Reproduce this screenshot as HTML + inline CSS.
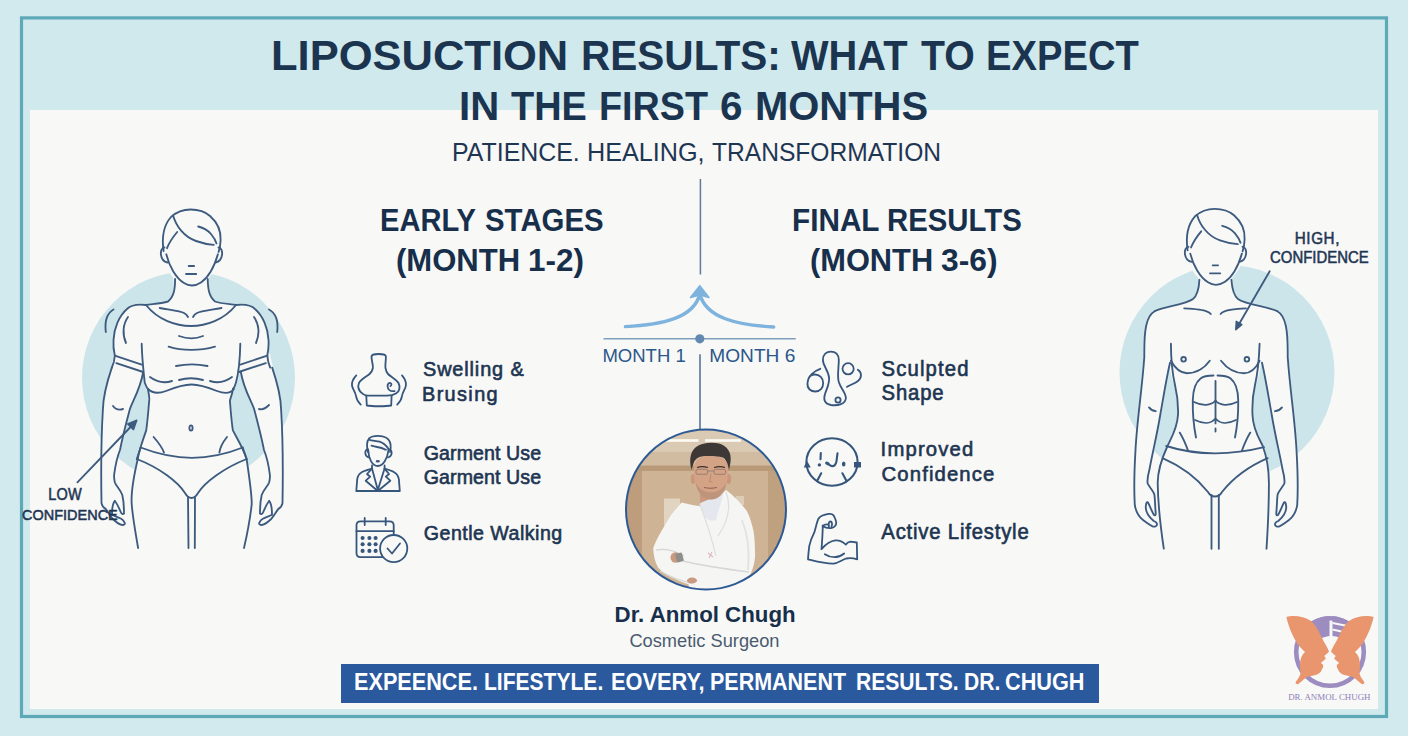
<!DOCTYPE html>
<html><head><meta charset="utf-8">
<style>
html,body{margin:0;padding:0;}
body{width:1408px;height:736px;overflow:hidden;position:relative;background:#d2eaee;font-family:"Liberation Sans", sans-serif;}
.t{position:absolute;white-space:nowrap;font-family:"Liberation Sans", sans-serif;}
svg.main{position:absolute;left:0;top:0;}
</style></head>
<body>
<svg class="main" width="1408" height="736" viewBox="0 0 1408 736">
<defs>
  <clipPath id="pc"><circle cx="706" cy="509.5" r="80"/></clipPath>
  <linearGradient id="bgg" x1="0" y1="0" x2="0" y2="1">
    <stop offset="0" stop-color="#d2c0a6"/><stop offset="1" stop-color="#c3a483"/>
  </linearGradient>
</defs>
<!-- frame -->
<rect x="21.5" y="17.9" width="1365" height="698.6" fill="#d0e9ed" stroke="#5ea9b7" stroke-width="3.2"/>
<rect x="30" y="110" width="1348" height="599" fill="#f8f8f7"/>

<!-- circles -->
<circle cx="188.5" cy="378" r="106.5" fill="#cce5ea"/>
<circle cx="1227" cy="372.5" r="107.5" fill="#cce5ea"/>

<!-- LEFT FIGURE -->
<g fill="#f8f8f7" stroke="#f8f8f7" stroke-width="1.5" stroke-linejoin="round">
<path d="M165,262 C158,240 160,212 190,210 C220,210 223,240 218,262 C212,276 202,286 191,286 C180,286 170,276 165,262 Z"/><path d="M174,276 L174,279 C175,288 174,297 167,302 C160,304 150,304 146,305 C138,304 131,305 127,309 C119,316 114,328 113.5,340 C113,346 114,352 114.8,355.6 L116.3,363.1 L143.2,372 C144,375 144.5,380 144.7,382.5 C146,386 147,388 148,389 C149,395 149.5,400 149.2,400.5 C148,415 147,425 146.2,430.4 C143,440 139,450 138,458 C134,475 131,495 131.7,504.3 C133,520 136,535 138.1,548 L244,548 C247,535 250,520 251.7,504.3 C252,495 249,475 246.6,459 C244,450 238,440 232.9,430.4 C232,425 231,415 229.9,400.5 C230,400 232,395 233,389 C234,388 235,386 236,382.5 C237,378 238,375 238.8,372 L265.8,363.1 L267.3,355.6 C268,352 269,346 268.5,340 C268,328 263,316 255,309 C251,305 244,304 236,305 C232,304 222,304 215,302 C209,297 208,288 208,279 L208,276 Z"/><path d="M114.8,354 L111.8,367.6 C106,385 103,400 102.9,409.4 C101,440 101,475 101.5,503.1 C104,510 112,520 122.3,525 C126,525 125,520 124,513.5 C124,508 123.5,500 122.3,495 C120,489 116,486 114.8,482.3 C114,479 114,476 114.2,474.2 C116,460 118,455 120,450 C123,435 127,420 129.8,409.4 C133,400 140,390 143.2,372 L142,363 Z"/><path d="M269.20,354 L272.20,367.6 C278.00,385 281.00,400 281.10,409.4 C283.00,440 283.00,475 282.50,503.1 C280.00,510 272.00,520 261.70,525 C258.00,525 259.00,520 260.00,513.5 C260.00,508 260.50,500 261.70,495 C264.00,489 268.00,486 269.20,482.3 C270.00,479 270.00,476 269.80,474.2 C268.00,460 266.00,455 264.00,450 C261.00,435 257.00,420 254.20,409.4 C251.00,400 244.00,390 240.80,372 L242.00,363 Z"/>
</g>
<g fill="none" stroke="#3d5b7e" stroke-width="1.85" stroke-linecap="round" stroke-linejoin="round">
<path d="M163.6,251 C162,240 163,226 171,217 C177,211.5 184,209.5 190.7,209.5 C198,209.5 205,211.5 210,216 C218,223 221,232 220.6,240 C220.5,244 220,248 218.6,252"/>
<path d="M166.3,254.3 C169,266 176,278 184,283 C187,285 189.5,285.5 192,285.5 C195,285.5 198,284.5 201,282.5 C209,277 214.5,266 217.9,254.3"/>
<path d="M164.5,247.5 C159,248 159.5,261 167.5,262.5"/>
<path d="M218.5,247.5 C224,248 223.5,261 215.5,262.5"/>
<path d="M173.1,215.6 C176,226 184,237 196,241 C203,243.5 209,244.5 213.8,244.8"/>
<path d="M198.2,226.5 C204,228 208,230.5 211,234 C213.5,237 215.5,240 216.5,243.4"/>
<path d="M177.2,232 C173,237 169,243 167,248.2"/>
<path d="M188.7,266 L194.1,266"/>
<path d="M186,274 L196.2,274"/>
<path d="M175.1,279 C175,288 174.5,296 168,301.5 C160,304 150,304 146,305"/>
<path d="M207.7,279 C208,288 208.5,296 215,301.5 C222,304 232,304 236,305"/>
<path d="M146,305 C158,320 176,326 191,326 C206,326 224,320 236,305"/>
<path d="M159.7,308 C170,310 180,311 184,313 C186,314 187,315 188,317"/>
<path d="M193,317 C194,315 195,314 197,313 C201,311 211,310 221.5,308"/>
<path d="M146,305 C138,304 131,305 127,309 C119,316 114,328 113.5,340 C113,346 114,352 114.8,355.6"/>
<path d="M236,305 C244,304 251,305 255,309 C263,316 268,328 268.5,340 C269,346 268,352 267.3,355.6"/>
<path d="M128,317 C123,324 122,334 126,343"/>
<path d="M254,317 C259,324 260,334 256,343"/>
<path d="M113.5,309.5 C107.5,313 104.5,321 105.8,332"/>
<path d="M269,309.5 C275.5,313 278.5,321 277.2,332"/>
<path d="M114.8,355.6 L141.7,364.6 M116.3,363.1 L143.2,372"/>
<path d="M267.3,355.6 L240.4,364.6 M265.8,363.1 L238.8,372"/>
<path d="M141.7,343.7 C142,360 144,375 144.7,382.5 C146,386 147,388 148,389"/>
<path d="M240.3,343.7 C240,360 238,375 236,382.5 C235,386 234,388 233,389"/>
<path d="M148,389 C152,393 158,394 166,391 C176,387 184,384.5 191.5,384.5 C199,384.5 207,387 217,391 C225,394 231,393 234,389"/>
<path d="M150,377 C158,383 166,383 172,381"/>
<path d="M210,381 C216,383 224,383 232,377"/>
<path d="M179,380 C186,378 196,378 203,380"/>
<path d="M179,336 C187,339 196,339 203,336"/>
<path d="M168.6,346.7 C182,351 200,351 215,346.7"/>
<path d="M176,366 C186,364 198,364 207.5,366"/>
<path d="M114.8,355.6 L113.8,362 L111.8,367.6"/>
<path d="M267.3,355.6 L268.3,362 L270.2,367.6"/>
<path d="M113,406 C116,410 120,410 123,409"/>
<path d="M259,409 C262,410 266,408 269,405"/>
<path d="M148,389 C149,395 149.5,400 149.2,400.5 C148,415 147,425 146.2,430.4 C143,440 139,450 138,458 C134,475 131,495 131.7,504.3 C133,520 136,535 138.1,548"/>
<path d="M233,389 C232,395 230,400 229.9,400.5 C231,415 232,425 232.9,430.4 C238,440 244,450 246.6,459 C249,475 252,495 251.7,504.3 C250,520 247,535 244,548"/>
<path d="M153.6,437 C158,442 162,447 164,452.6"/>
<path d="M227,437 C223,442 220,447 219.4,452.6"/>
<path d="M140.7,447.5 C160,455 175,457.8 192,457.8 C209,457.8 224,455 242.7,447.5"/>
<path d="M136.8,459 C160,468 178,482 185,493 C187,496.5 189,498 191.5,498 C194,498 196,496.5 198,493 C205,482 224,468 246.6,459"/>
<path d="M140.7,447.5 L136.8,459 M242.7,447.5 L246.6,459"/>
<path d="M188,497 L188.5,548 M195,497 L194.8,548"/>
<path d="M77.4,482.3 L131,426.5"/>
<path d="M111.8,367.6 C106,385 103,400 102.9,409.4 C101,440 101,475 101.5,503.1 C102,506 104,508 105.6,508.9 C108,512 110,516 113.1,519.3 C116,522 120,525 122.3,525 C124,525 125.5,524 124.6,522.7 C124,521 122.5,519.5 121.2,518.7 C118,517 114,516 112,514.7 C112,510 113,503 114.8,500.8 C116.5,503 119,508 121.2,513 C122,514 123,514.5 124,513.5 C124,508 123.5,500 122.3,495 C120,489 116,486 114.8,482.3 C114,479 114,476 114.2,474.2 C116,460 118,455 120,450 C123,435 127,420 129.8,409.4 C133,400 140,390 143.2,372"/>
<path d="M272.20,367.6 C278.00,385 281.00,400 281.10,409.4 C283.00,440 283.00,475 282.50,503.1 C282.00,506 280.00,508 278.40,508.9 C276.00,512 274.00,516 270.90,519.3 C268.00,522 264.00,525 261.70,525 C260.00,525 258.50,524 259.40,522.7 C260.00,521 261.50,519.5 262.80,518.7 C266.00,517 270.00,516 272.00,514.7 C272.00,510 271.00,503 269.20,500.8 C267.50,503 265.00,508 262.80,513 C262.00,514 261.00,514.5 260.00,513.5 C260.00,508 260.50,500 261.70,495 C264.00,489 268.00,486 269.20,482.3 C270.00,479 270.00,476 269.80,474.2 C268.00,460 266.00,455 264.00,450 C261.00,435 257.00,420 254.20,409.4 C251.00,400 244.00,390 240.80,372"/>
<ellipse cx="191" cy="428" rx="1.6" ry="2.6"/>
</g>
<path d="M136.8,420.3 L133.5,429.6 L127.7,424 Z" fill="#3d5b7e" stroke="#3d5b7e" stroke-width="1.5" stroke-linejoin="round"/>
<!-- RIGHT FIGURE -->
<g fill="#f8f8f7" stroke="#f8f8f7" stroke-width="1.5" stroke-linejoin="round">
<g transform="translate(1024,-0.7)"><path d="M165,262 C158,240 160,212 190,210 C220,210 223,240 218,262 C212,276 202,286 191,286 C180,286 170,276 165,262 Z"/></g><path d="M1199.4,276 L1199.4,279.8 C1199,288 1198,295 1193,299 C1185,305 1165,306 1155,311 C1146,316 1144,330 1144.3,357 L1170,362.7 C1171,372 1172,378 1175,385 C1178,398 1178.5,404 1178,415 C1177,430 1170,440 1167.5,446 C1162,458 1157.7,470 1157.7,482.7 C1158,510 1163.8,548.7 1163.8,548.7 L1266.5,548.7 C1266.5,548.7 1269,510 1268.9,482.7 C1268.9,470 1266,455 1262.8,446 C1260,440 1253,430 1252.5,415 C1252,404 1252,398 1255,385 C1258,378 1259,372 1260.6,362.7 L1287.7,357 C1288,330 1286,316 1277,311 C1266,306 1246,305 1238,299 C1233,295 1232,288 1231.4,279.8 L1231.4,276 Z"/><path d="M1155,311 C1146,316 1144,330 1144.3,357 C1142,390 1137,420 1135.5,450 C1134,475 1134.2,495 1134.8,505.2 C1138,515 1148,526 1157,524.2 C1157,520 1155.6,516 1155.6,512 C1155,505 1155,498 1154.3,494.2 C1152,489 1148.5,486 1147.6,483.2 C1147,478 1148.5,473 1149.4,469.8 C1152,455 1157,435 1160.4,414 C1163,400 1166,380 1170,362.7 L1175,330 Z"/><path d="M1277.00,311 C1286.00,316 1288.00,330 1287.70,357 C1290.00,390 1295.00,420 1296.50,450 C1298.00,475 1297.80,495 1297.20,505.2 C1294.00,515 1284.00,526 1275.00,524.2 C1275.00,520 1276.40,516 1276.40,512 C1277.00,505 1277.00,498 1277.70,494.2 C1280.00,489 1283.50,486 1284.40,483.2 C1285.00,478 1283.50,473 1282.60,469.8 C1280.00,455 1275.00,435 1271.60,414 C1269.00,400 1266.00,380 1262.00,362.7 L1257.00,330 Z"/>
</g>
<g fill="none" stroke="#3d5b7e" stroke-width="1.85" stroke-linecap="round" stroke-linejoin="round">
<g transform="translate(1024,-0.7)">
<path d="M163.6,251 C162,240 163,226 171,217 C177,211.5 184,209.5 190.7,209.5 C198,209.5 205,211.5 210,216 C218,223 221,232 220.6,240 C220.5,244 220,248 218.6,252"/>
<path d="M166.3,254.3 C169,266 176,278 184,283 C187,285 189.5,285.5 192,285.5 C195,285.5 198,284.5 201,282.5 C209,277 214.5,266 217.9,254.3"/>
<path d="M164.5,247.5 C159,248 159.5,261 167.5,262.5"/>
<path d="M218.5,247.5 C224,248 223.5,261 215.5,262.5"/>
<path d="M173.1,215.6 C176,226 184,237 196,241 C203,243.5 209,244.5 213.8,244.8"/>
<path d="M198.2,226.5 C204,228 208,230.5 211,234 C213.5,237 215.5,240 216.5,243.4"/>
<path d="M177.2,232 C173,237 169,243 167,248.2"/>
<path d="M188.7,266 L194.1,266"/>
<path d="M186,274 L196.2,274"/>
</g>
<path d="M1199.4,279.8 C1199,288 1198,295 1193,299 C1185,305 1165,306 1155,311"/>
<path d="M1231.4,279.8 C1232,288 1233,295 1238,299 C1246,305 1266,306 1277,311"/>
<path d="M1184.2,308.4 C1195,309 1204,310 1206,311.2 C1208,312 1210,313 1210.8,314"/>
<path d="M1220.6,314 C1221,313 1223,312 1225,311.2 C1227,310 1236,309 1246,308.4"/>
<path d="M1170.9,343.7 C1171,360 1172,372 1175,385 C1178,398 1178.5,404 1178,415 C1177,430 1170,440 1167.5,446 C1162,458 1157.7,470 1157.7,482.7 C1158,510 1163.8,548.7 1163.8,548.7"/>
<path d="M1259.6,343.7 C1259,360 1258,372 1255,385 C1252,398 1252,404 1252.5,415 C1253,430 1260,440 1262.8,446 C1266,455 1268.9,470 1268.9,482.7 C1269,510 1266.5,548.7 1266.5,548.7"/>
<path d="M1170.9,360.8 C1176,370 1182,373.2 1187,373.2 C1198,373.2 1206,366 1209.8,360.8"/>
<path d="M1221,360.8 C1225,366 1233,373.2 1244,373.2 C1249,373.2 1255,370 1259.6,360.8"/>
<path d="M1213.5,375.5 C1208,375.5 1203,376.5 1200.6,378.5 C1196,382 1193,390 1192.8,400 C1192.6,410 1193.5,425 1196,437.5"/>
<path d="M1217.5,375.5 C1223,375.5 1228,376.5 1230.6,378.5 C1235,382 1238,390 1238.2,400 C1238.4,410 1237.5,425 1235,437.5"/>
<path d="M1215.5,381 L1215.5,423.4"/>
<path d="M1194,402 C1202,406 1211,406 1215.5,400.5 C1220,406 1229,406 1237,402"/>
<path d="M1195,420 C1203,424 1211,424 1215.5,418.5 C1220,424 1228,424 1236,420"/>
<path d="M1215.5,428.5 L1215.5,431.5"/>
<path d="M1179.7,432.6 C1183,438 1186,445 1188.2,451"/>
<path d="M1250.3,432.6 C1247,438 1244,445 1241.8,451"/>
<path d="M1166.2,446 C1185,452 1200,453.3 1215.1,453.3 C1230,453.3 1245,452 1264,447.2"/>
<path d="M1162.6,458.2 C1185,468 1200,482 1208,492 C1210,495.5 1212.5,496.5 1215,496.5 C1217.5,496.5 1220,495.5 1222,492 C1230,482 1245,468 1267.7,458.2"/>
<path d="M1211.5,495 L1211.5,548.7 M1218.8,495 L1218.8,548.7"/>
<path d="M1149,407.4 C1151,410 1153,411 1155.7,411.2"/>
<path d="M1275,411.2 C1278,411 1280,410 1282,407.4"/>
<path d="M1269.7,271.3 L1238.5,325"/>
<path d="M1155,311 C1146,316 1144,330 1144.3,357 C1142,390 1137,420 1135.5,450 C1134,475 1134.2,495 1134.8,505.2 C1136,512 1139.7,517.5 1143,520 C1147,523 1151,526 1153.1,526.6 C1155,527 1157,526 1157,524.2 C1157,522.5 1155,521.5 1153.7,521 C1149,517 1145.5,511 1145.8,506.5 C1146,503 1147,501.5 1148,502.5 C1150,506 1152,512 1154,515 C1155.5,516 1156,514.5 1155.6,512 C1155,505 1155,498 1154.3,494.2 C1152,489 1148.5,486 1147.6,483.2 C1147,478 1148.5,473 1149.4,469.8 C1152,455 1157,435 1160.4,414 C1163,400 1166,380 1170,362.7"/>
<path d="M1277.00,311 C1286.00,316 1288.00,330 1287.70,357 C1290.00,390 1295.00,420 1296.50,450 C1298.00,475 1297.80,495 1297.20,505.2 C1296.00,512 1292.30,517.5 1289.00,520 C1285.00,523 1281.00,526 1278.90,526.6 C1277.00,527 1275.00,526 1275.00,524.2 C1275.00,522.5 1277.00,521.5 1278.30,521 C1283.00,517 1286.50,511 1286.20,506.5 C1286.00,503 1285.00,501.5 1284.00,502.5 C1282.00,506 1280.00,512 1278.00,515 C1276.50,516 1276.00,514.5 1276.40,512 C1277.00,505 1277.00,498 1277.70,494.2 C1280.00,489 1283.50,486 1284.40,483.2 C1285.00,478 1283.50,473 1282.60,469.8 C1280.00,455 1275.00,435 1271.60,414 C1269.00,400 1266.00,380 1262.00,362.7"/>
<circle cx="1183.6" cy="359.3" r="2.3"/><circle cx="1246.9" cy="359.3" r="2.3"/>
</g>
<path d="M1235.8,329.8 L1241.8,324.6 L1236.3,321.4 Z" fill="#3d5b7e" stroke="#3d5b7e" stroke-width="1.5" stroke-linejoin="round"/>
<!-- TIMELINE -->
<path d="M700.4,179 L700.4,274.5" stroke="#5d7b9a" stroke-width="1.5" fill="none"/>
<path d="M625.4,326.6 C662,325 694,318 699.8,294 M773.7,327 C737,325 706,318 699.8,294" stroke="#7db3dd" stroke-width="3.4" fill="none" stroke-linecap="round"/>
<path d="M699.8,285.7 L709,297.5 L699.8,295 L690.5,297.5 Z" fill="#7db3dd" stroke="#7db3dd" stroke-width="1.5" stroke-linejoin="round"/>
<path d="M603.5,338.8 L795.8,338.8" stroke="#7f9fbd" stroke-width="1.5" fill="none"/>
<circle cx="699.8" cy="338.8" r="4.6" fill="#6289b0"/>
<path d="M700,354.3 L700,430" stroke="#4d6d90" stroke-width="1.5" fill="none"/>

<!-- PHOTO -->
<g clip-path="url(#pc)">
  <rect x="620" y="425" width="175" height="170" fill="#c8aa8a"/>
  <rect x="620" y="425" width="175" height="31" fill="#dacab4"/>
  <rect x="620" y="452" width="175" height="14" fill="#d2bca1"/>
  <rect x="665" y="439.2" width="33.5" height="2.6" fill="#fcfaf4"/>
  <rect x="705" y="439.2" width="36" height="2.6" fill="#fcfaf4"/>
  <rect x="620" y="465.5" width="175" height="6" fill="#b99a78"/>
  <rect x="620" y="471" width="22" height="125" fill="#bd9d7b"/>
  <rect x="768" y="471" width="30" height="125" fill="#bfa07f"/>
  <rect x="642" y="471" width="126" height="125" fill="#cfb395"/>
  <rect x="664" y="498.5" width="16" height="27" fill="#e1d4c1"/>
  <rect x="735.6" y="496" width="8.4" height="9" fill="#ddcdb8"/>
  <!-- neck -->
  <path d="M700,492 L723,492 L723,503 L712,512 L700,503 Z" fill="#c99a80"/>
  <!-- coat -->
  <path d="M681.6,502.5 C675,510 670,516 667.7,520.5 C662,530 656,540 653.2,548.2 C653.5,556 655,562 658,567.6 C663,573 669,577 674.7,578.7 C680,581 684,583 688.5,584.2 L690,596 L745,596 L739.8,581.5 C745,579 749,576 750.9,573.2 C754,566 755.5,558 755,552.4 C755,545 754.5,538 753.6,531.6 C752,524 750,517 746.7,510.8 C740,502 733,495 726,490 C720,497 712,503 704,507 C697,506 688,504 681.6,502.5 Z" fill="#f5f5f4"/>
  <path d="M700,503 C705,501 715,497 724,492 L716,520 C712,522 707,520 704,516 Z" fill="#e4e8ee"/>
  <path d="M699.6,504 C706,520 712,540 716,556 M726,492 C731,505 729,520 718,536" fill="none" stroke="#dededc" stroke-width="1.2"/>
  <path d="M656,550 C666,548 676,551 684,556 M683,561 C700,565 725,569 749,572 M660,571 C671,577 681,581 692,583.5" fill="none" stroke="#d6d6d4" stroke-width="1.3"/>
  <path d="M742,520 C748,535 750,550 748,570" fill="none" stroke="#e3e3e1" stroke-width="2"/>
  <!-- hands -->
  <ellipse cx="675.5" cy="557.5" rx="5" ry="5.2" fill="#c99a80"/>
  <rect x="676" y="553" width="7" height="9" rx="1.5" fill="#8e8e8c" transform="rotate(-15 679.5 557.5)"/>
  <ellipse cx="692" cy="580.5" rx="5" ry="3" fill="#c99a80"/>
  <path d="M708,553 L713,557 M712,552 L709,558" stroke="#e2b5c0" stroke-width="1.1"/>
  <!-- head -->
  <ellipse cx="693" cy="479" rx="2.3" ry="5" fill="#c9977b"/>
  <ellipse cx="728.8" cy="479" rx="2.3" ry="5" fill="#c9977b"/>
  <path d="M694,468 C693.5,487 700,499.5 711,499.5 C722,499.5 728.5,487 728,468 C727.5,459 720,455 711,455 C702,455 694.5,459 694,468 Z" fill="#d4a386"/>
  <path d="M695.5,482 C697,493 703,499.5 711,499.5 C719,499.5 725,493 726.5,482 C724,488 719,492 711,492.5 C703,492 698,488 695.5,482 Z" fill="#a88570" opacity="0.5"/>
  <path d="M691.5,470 C689,460 690,452 696,447 C702,442.5 712,442 719,443.5 C727,446 732,452 730.5,462 C730,465 729.5,468 729,470 C728,465 727,461 724,458 C719,455.5 712,456.5 706,456 C700,456 696,458 694,462 C693,465 692,468 691.5,470 Z" fill="#3d3836"/>
  <path d="M697,467.5 C700,466.3 704,466.3 708,467.5 M714,467.5 C718,466.3 722,466.3 725,467.5" fill="none" stroke="#3a302c" stroke-width="1.3"/>
  <rect x="696" y="469.3" width="11.5" height="5" rx="1.5" fill="none" stroke="#7a6d69" stroke-width="0.65"/>
  <rect x="714" y="469.3" width="11.5" height="5" rx="1.5" fill="none" stroke="#7a6d69" stroke-width="0.65"/>
  <path d="M707.5,471 L714,471" stroke="#7a6d69" stroke-width="0.6"/>
  <path d="M711,474 L709.5,481.5 L712.5,482" fill="none" stroke="#b58a72" stroke-width="0.9"/>
  <path d="M704,487.5 C708,488.5 713,488.5 717,487.5" fill="none" stroke="#8e6252" stroke-width="1.1"/>
</g>
<circle cx="706" cy="509.5" r="80" fill="none" stroke="#2d5a94" stroke-width="2"/>

<!-- ICONS -->
<g fill="none" stroke="#36567c" stroke-width="1.8" stroke-linecap="round" stroke-linejoin="round">
  <!-- swelling -->
  <path d="M371.5,356.5 C371.5,354.5 375,354 378.7,354 C382.5,354 385.9,354.5 385.9,356.5 C385.9,361 385,365 385.5,368 C386,371 386.5,372.5 388,374 C391,377 396,379 398.5,383 C400.5,387 399.5,391.5 396.3,393.3 C393,395.5 389,395.7 386.8,395.7 L371.1,395.7 C368,395.7 364,395.5 362.4,393.5 C358.5,390.5 357.5,386.5 359,383 C361,379 366,377 369.5,374 C371.5,372 372.5,370.5 372.9,368 C373.2,364 371.5,361 371.5,356.5 Z"/>
  <path d="M366.3,396 L366.8,405.5 C372,406.5 386,406.5 391.2,405.5 L391.6,396"/>
  <path d="M356.3,375.4 C353,379 351.5,382 352,385.5 C352.5,389 355.5,392 356,396 C356.5,399.5 358.5,402.5 360.7,404.6"/>
  <path d="M402,375.4 C405,379 406.5,382 405.9,385.5 C405.5,389 402.5,392 402,396 C401.5,399.5 399.5,402.5 397.2,404.6"/>
  <path d="M394.6,391.1 C391,391.5 388,390 387.6,386.5 C387.3,384 389,382.5 390.5,383 C392,383.5 391.5,385.5 390.5,386"/>
  <!-- person -->
  <path d="M368,452 C366.5,446 367,441 369,438.5 C371.5,436 375,435.8 378,435.8 C384,435.8 389.5,438.5 390.5,444 C391,447 390.5,450 390,452"/>
  <path d="M369.3,439.9 C372,440.5 376,441 379.6,441.7 C383.5,443 386.5,446 388.6,449"/>
  <path d="M371.5,445.7 C374,446.5 377,447 379.6,447.5 C382,448 384,449 385.9,449.7"/>
  <path d="M368.3,450.5 C368.5,458 372,466 377.8,466 C383.5,466 387.5,458 388.5,450"/>
  <path d="M368.2,449.5 C364.5,449 364,456 368.8,457.5 M388.5,449.5 C392.5,449 393,456 388,457.5"/>
  <path d="M372,465.5 L372,468.6 M384.6,465.5 L384.6,468.6"/>
  <path d="M372,468.6 C367,470 363,471 361.7,472.2 C358.5,474 357.5,477 357.2,479.4 L356.3,491 L399.8,491 L398.9,479.4 C398.5,477 397.5,474 394,472.2 C393,471 389.5,470 384.6,468.6"/>
  <path d="M372,468.6 L367,474 L370.2,476.7 L365.7,480.7 L377.8,491 M384.6,468.6 L389,474 L385.8,476.7 L390.3,480.7 L377.8,491"/>
  <path d="M372,468.6 L377.8,490 L384.6,468.6"/>
  <!-- calendar -->
  <path d="M385,557.1 L360.5,557.1 C358,557.1 356.5,555.5 356.5,553 L356.5,525.3 C356.5,523 358,521.3 360.5,521.3 L389.5,521.3 C392,521.3 393.7,523 393.7,525.3 L393.7,535"/>
  <path d="M356.5,531.2 L393.7,531.2"/>
  <path d="M364.7,518 L364.7,525 M385.7,518 L385.7,525"/>
  <circle cx="393.7" cy="548.6" r="13.6" fill="#f8f8f7"/>
  <path d="M387.5,548.5 L392,553.5 L400,543.5"/>
  <!-- sculpted -->
  <path d="M830.9,351.6 C835.5,351.6 838.8,354.5 838.8,360 C838.8,368 837,376 838.8,382 C840.5,388 846,393 845.9,398 C845.5,404 838,406 831,405 C825,404 823,400 825,394 C827,388 829.5,384 829.1,378 C828.5,370 822.9,366 822.9,360 C822.9,354.5 826.5,351.6 830.9,351.6 Z"/>
  <circle cx="838" cy="400" r="2.6"/>
  <path d="M820.3,368.8 C814,371 808,376 807.5,383 C807,389 811,391.5 815.4,391.5 C820,391.5 823.2,388 823.2,383 C823.2,378 819.5,374.5 815,374.5 C811.5,374.5 809,376.5 808.2,379.5"/>
  <circle cx="848.1" cy="368.8" r="5.6"/>
  <path d="M857.8,369.7 C862,372 862,378 858,381 C855,383.5 850,385 846.8,386.9"/>
  <!-- confidence -->
  <ellipse cx="832" cy="462" rx="25.6" ry="23.8" stroke-width="2.1"/>
  <path d="M820.8,453 L820.5,459.2 M837.5,453.4 L836.7,459.6 C836.5,462 835.5,465 833.6,466 C831.5,466.5 830,465.5 829,464.5 M821.2,473.3 L817.2,480.8 M842.4,473.3 L846.4,480.8" stroke-width="2.1"/>
  <!-- muscle -->
  <path d="M808,559.3 C808.5,552 809,548 809.3,545.9 C810.5,540 812.5,536 814.3,532.4 C816,527 817,521 818.9,518.1 C821,515.5 825,514.5 828.6,513.9 C831,513.5 832.5,514 833.7,515.6 C835,518 836.5,521 836.2,523.6 C835.5,526.5 834,527.5 832,527.8 C829,528.5 825,527.5 822.7,525.7 L822.7,529 C822.5,536 822,543 821.5,549.2 C825,545 830,541 835.4,540.4 C840,540 843,542 845.9,544.6 C847,543 848.5,542 850.5,541.7 L856.8,542.5 L857.2,559.3 C853,558 849,558 846.3,558.5 C842,560 838,563 833.7,563.6 C826,564 815,561 808,559.3 Z"/>
  <path d="M829,527 C828,524 829,521.5 830.5,521.5 C832,521.5 832.5,524 831.5,526.5 M822.7,525.7 C825,524 827,524 829,525"/>
  <path d="M824.8,554.3 C828,556.5 831,557.2 834.5,557.2 C838,557.2 841,556 844.2,553.5"/>
</g>
<g fill="#36567c">
  <circle cx="362.6" cy="538" r="2.05"/><circle cx="369.4" cy="538" r="2.05"/><circle cx="375.6" cy="538" r="2.05"/>
  <circle cx="362.6" cy="544.3" r="2.05"/><circle cx="369.4" cy="544.3" r="2.05"/><circle cx="375.6" cy="544.3" r="2.05"/>
  <circle cx="362.6" cy="550.9" r="2.05"/><circle cx="369.4" cy="550.9" r="2.05"/><circle cx="375.6" cy="550.9" r="2.05"/>
  <path d="M803.8,467.5 L810.8,467.5 L806.8,460.5 Z"/>
  <rect x="854" y="462" width="7" height="5.5"/>
  <circle cx="819.4" cy="464.9" r="1.7"/><ellipse cx="377.8" cy="461.2" rx="2.1" ry="1.2"/><ellipse cx="827.4" cy="463.4" rx="2.4" ry="1.7" transform="rotate(30 827.4 463.4)"/><ellipse cx="843.7" cy="464" rx="1.8" ry="2.6"/>
</g>

<!-- BANNER -->
<rect x="341" y="664" width="758" height="39" fill="#2a599e"/>

<!-- LOGO -->
<g>
  <circle cx="1330" cy="652" r="33.8" fill="none" stroke="#9c8cc0" stroke-width="4.6"/>
  <path d="M1308,625 C1314,619 1321,616.5 1329.5,616 L1329.5,636 C1322,637 1316,640 1312,645 Z" fill="#9c8cc0"/>
  <path d="M1332.5,616 C1339,616.5 1346,619 1351,623 L1346,640 C1342,638 1337,636.5 1332.5,636 Z" fill="#9c8cc0"/>
  <path d="M1332.5,623 L1350,626.5 M1332.5,629.5 L1348,633" stroke="#f8f8f7" stroke-width="1.9"/>
  <path d="M1286.4,617 C1293,615 1304,616 1311,621 C1317,626 1320,634 1323.5,641 C1326,645 1328,649 1329,651.5 C1327.5,653.5 1325,655 1324.2,656 C1325,657 1326,658 1325.6,659 C1324,660.5 1321.5,662 1320.8,663 C1322.5,664 1323.5,665 1323.3,666.5 C1322.5,668.5 1321.5,670 1321.2,671 C1320,674 1314,676 1307.8,676.5 C1305,678 1302,681 1298,684.3 C1296,684.5 1295,683 1296,681.5 C1298,679 1300,676 1300.6,673 C1300,668 1299.5,663 1301,658 C1302,655 1304,653 1305,652 C1301,648 1298,645 1296.4,642 C1292,635 1288,625 1286.4,617 Z" fill="#e9966f"/>
  <path d="M1373.6,617 C1367.0,615 1356.0,616 1349.0,621 C1343.0,626 1340.0,634 1336.5,641 C1334.0,645 1332.0,649 1331.0,651.5 C1332.5,653.5 1335.0,655 1335.8,656 C1335.0,657 1334.0,658 1334.4,659 C1336.0,660.5 1338.5,662 1339.2,663 C1337.5,664 1336.5,665 1336.7,666.5 C1337.5,668.5 1338.5,670 1338.8,671 C1340.0,674 1346.0,676 1352.2,676.5 C1355.0,678 1358.0,681 1362.0,684.3 C1364.0,684.5 1365.0,683 1364.0,681.5 C1362.0,679 1360.0,676 1359.4,673 C1360.0,668 1360.5,663 1359.0,658 C1358.0,655 1356.0,653 1355.0,652 C1359.0,648 1362.0,645 1363.6,642 C1368.0,635 1372.0,625 1373.6,617 Z" fill="#e9966f"/>
</g>
</svg>

<div class="t" style="left:270.73px;top:34.75px;font-size:42.00px;line-height:42.00px;font-weight:bold;color:#1b3450;font-family:'Liberation Sans', sans-serif;transform:scale(1.0358,1.03);transform-origin:0 35.55px;">LIPOSUCTION</div>
<div class="t" style="left:580.67px;top:34.75px;font-size:42.00px;line-height:42.00px;font-weight:bold;color:#1b3450;font-family:'Liberation Sans', sans-serif;transform:scale(0.9652,1.03);transform-origin:0 35.55px;">RESULTS:</div>
<div class="t" style="left:791.40px;top:34.75px;font-size:42.00px;line-height:42.00px;font-weight:bold;color:#1b3450;font-family:'Liberation Sans', sans-serif;transform:scale(0.9482,1.03);transform-origin:0 35.55px;">WHAT</div>
<div class="t" style="left:921.00px;top:34.75px;font-size:42.00px;line-height:42.00px;font-weight:bold;color:#1b3450;font-family:'Liberation Sans', sans-serif;transform:scale(0.9339,1.03);transform-origin:0 35.55px;">TO</div>
<div class="t" style="left:986.28px;top:34.75px;font-size:42.00px;line-height:42.00px;font-weight:bold;color:#1b3450;font-family:'Liberation Sans', sans-serif;transform:scale(0.9093,1.03);transform-origin:0 35.55px;">EXPECT</div>
<div class="t" style="left:459.47px;top:87.48px;font-size:39.60px;line-height:39.60px;font-weight:bold;color:#1b3450;font-family:'Liberation Sans', sans-serif;transform:scale(1.0144,1.03);transform-origin:0 33.52px;">IN</div>
<div class="t" style="left:511.30px;top:87.48px;font-size:39.60px;line-height:39.60px;font-weight:bold;color:#1b3450;font-family:'Liberation Sans', sans-serif;transform:scale(0.9581,1.03);transform-origin:0 33.52px;">THE</div>
<div class="t" style="left:598.99px;top:87.48px;font-size:39.60px;line-height:39.60px;font-weight:bold;color:#1b3450;font-family:'Liberation Sans', sans-serif;transform:scale(0.9532,1.03);transform-origin:0 33.52px;">FIRST</div>
<div class="t" style="left:720.08px;top:87.48px;font-size:39.60px;line-height:39.60px;font-weight:bold;color:#1b3450;font-family:'Liberation Sans', sans-serif;transform:scale(1.0200,1.03);transform-origin:0 33.52px;">6</div>
<div class="t" style="left:754.58px;top:87.48px;font-size:39.60px;line-height:39.60px;font-weight:bold;color:#1b3450;font-family:'Liberation Sans', sans-serif;transform:scale(1.0090,1.03);transform-origin:0 33.52px;">MONTHS</div>
<div class="t" style="left:452.21px;top:140.44px;font-size:25.00px;line-height:25.00px;font-weight:normal;color:#1f3653;font-family:'Liberation Sans', sans-serif;transform:scale(0.9959,1.0);transform-origin:0 21.16px;">PATIENCE.</div>
<div class="t" style="left:586.98px;top:140.44px;font-size:25.00px;line-height:25.00px;font-weight:normal;color:#1f3653;font-family:'Liberation Sans', sans-serif;transform:scale(1.0075,1.0);transform-origin:0 21.16px;">HEALING,</div>
<div class="t" style="left:712.20px;top:140.44px;font-size:25.00px;line-height:25.00px;font-weight:normal;color:#1f3653;font-family:'Liberation Sans', sans-serif;transform:scale(0.9836,1.0);transform-origin:0 21.16px;">TRANSFORMATION</div>
<div class="t" style="left:379.56px;top:206.00px;font-size:30.00px;line-height:30.00px;font-weight:bold;color:#172f4a;font-family:'Liberation Sans', sans-serif;transform:scale(0.9710,1.06);transform-origin:0 25.39px;">EARLY</div>
<div class="t" style="left:485.40px;top:206.00px;font-size:30.00px;line-height:30.00px;font-weight:bold;color:#172f4a;font-family:'Liberation Sans', sans-serif;transform:scale(0.9799,1.06);transform-origin:0 25.39px;">STAGES</div>
<div class="t" style="left:396.18px;top:244.68px;font-size:30.50px;line-height:30.50px;font-weight:bold;color:#172f4a;font-family:'Liberation Sans', sans-serif;transform:scale(1.0173,1.02);transform-origin:0 25.82px;">(MONTH</div>
<div class="t" style="left:528.27px;top:244.68px;font-size:30.50px;line-height:30.50px;font-weight:bold;color:#172f4a;font-family:'Liberation Sans', sans-serif;transform:scale(1.0311,1.02);transform-origin:0 25.82px;">1-2)</div>
<div class="t" style="left:791.52px;top:206.00px;font-size:30.00px;line-height:30.00px;font-weight:bold;color:#172f4a;font-family:'Liberation Sans', sans-serif;transform:scale(0.9908,1.06);transform-origin:0 25.39px;">FINAL</div>
<div class="t" style="left:887.34px;top:206.00px;font-size:30.00px;line-height:30.00px;font-weight:bold;color:#172f4a;font-family:'Liberation Sans', sans-serif;transform:scale(0.9779,1.06);transform-origin:0 25.39px;">RESULTS</div>
<div class="t" style="left:809.59px;top:244.68px;font-size:30.50px;line-height:30.50px;font-weight:bold;color:#172f4a;font-family:'Liberation Sans', sans-serif;transform:scale(1.0097,1.02);transform-origin:0 25.82px;">(MONTH</div>
<div class="t" style="left:941.00px;top:244.68px;font-size:30.50px;line-height:30.50px;font-weight:bold;color:#172f4a;font-family:'Liberation Sans', sans-serif;transform:scale(1.0418,1.02);transform-origin:0 25.82px;">3-6)</div>
<div class="t" style="left:354.22px;top:672.41px;font-size:22.20px;line-height:22.20px;font-weight:bold;color:#ffffff;font-family:'Liberation Sans', sans-serif;transform:scale(0.9757,1.06);transform-origin:0 18.79px;">EXPEENCE.</div>
<div class="t" style="left:484.45px;top:672.41px;font-size:22.20px;line-height:22.20px;font-weight:bold;color:#ffffff;font-family:'Liberation Sans', sans-serif;transform:scale(0.9484,1.06);transform-origin:0 18.79px;">LIFESTYLE.</div>
<div class="t" style="left:611.22px;top:672.41px;font-size:22.20px;line-height:22.20px;font-weight:bold;color:#ffffff;font-family:'Liberation Sans', sans-serif;transform:scale(0.9808,1.06);transform-origin:0 18.79px;">EOVERY,</div>
<div class="t" style="left:710.03px;top:672.41px;font-size:22.20px;line-height:22.20px;font-weight:bold;color:#ffffff;font-family:'Liberation Sans', sans-serif;transform:scale(0.9681,1.06);transform-origin:0 18.79px;">PERMANENT</div>
<div class="t" style="left:856.25px;top:672.41px;font-size:22.20px;line-height:22.20px;font-weight:bold;color:#ffffff;font-family:'Liberation Sans', sans-serif;transform:scale(0.9499,1.06);transform-origin:0 18.79px;">RESULTS.</div>
<div class="t" style="left:964.25px;top:672.41px;font-size:22.20px;line-height:22.20px;font-weight:bold;color:#ffffff;font-family:'Liberation Sans', sans-serif;transform:scale(0.9488,1.06);transform-origin:0 18.79px;">DR.</div>
<div class="t" style="left:1004.90px;top:672.41px;font-size:22.20px;line-height:22.20px;font-weight:bold;color:#ffffff;font-family:'Liberation Sans', sans-serif;transform:scale(0.9772,1.06);transform-origin:0 18.79px;">CHUGH</div>
<div class="t" style="left:602.40px;top:347.11px;font-size:18.54px;line-height:18.54px;font-weight:normal;color:#2b578a;font-family:'Liberation Sans', sans-serif;transform:scaleY(1.03);transform-origin:0 15.69px;">MONTH 1</div>
<div class="t" style="left:709.30px;top:346.12px;font-size:19.11px;line-height:19.11px;font-weight:normal;color:#2b578a;font-family:'Liberation Sans', sans-serif;">MONTH 6</div>
<div class="t" style="left:614.60px;top:604.14px;font-size:22.28px;line-height:22.28px;font-weight:bold;color:#172f4a;font-family:'Liberation Sans', sans-serif;">Dr. Anmol Chugh</div>
<div class="t" style="left:629.40px;top:631.55px;font-size:18.25px;line-height:18.25px;font-weight:normal;color:#4a5b6e;font-family:'Liberation Sans', sans-serif;">Cosmetic Surgeon</div>
<div class="t" style="left:423.00px;top:359.75px;font-size:19.90px;line-height:19.90px;font-weight:normal;color:#1d3551;font-family:'Liberation Sans', sans-serif;letter-spacing:0.867px;-webkit-text-stroke:0.6px #1d3551;transform:scaleY(1.03);transform-origin:0 16.85px;">Swelling &amp;</div>
<div class="t" style="left:422.00px;top:384.55px;font-size:19.90px;line-height:19.90px;font-weight:normal;color:#1d3551;font-family:'Liberation Sans', sans-serif;letter-spacing:1.367px;-webkit-text-stroke:0.6px #1d3551;transform:scaleY(1.03);transform-origin:0 16.85px;">Brusing</div>
<div class="t" style="left:423.80px;top:443.61px;font-size:19.60px;line-height:19.60px;font-weight:normal;color:#1d3551;font-family:'Liberation Sans', sans-serif;letter-spacing:0.080px;-webkit-text-stroke:0.6px #1d3551;transform:scaleY(1.04);transform-origin:0 16.59px;">Garment Use</div>
<div class="t" style="left:423.80px;top:467.91px;font-size:19.60px;line-height:19.60px;font-weight:normal;color:#1d3551;font-family:'Liberation Sans', sans-serif;letter-spacing:0.080px;-webkit-text-stroke:0.6px #1d3551;transform:scaleY(1.04);transform-origin:0 16.59px;">Garment Use</div>
<div class="t" style="left:423.80px;top:524.41px;font-size:19.60px;line-height:19.60px;font-weight:normal;color:#1d3551;font-family:'Liberation Sans', sans-serif;letter-spacing:0.485px;-webkit-text-stroke:0.6px #1d3551;">Gentle Walking</div>
<div class="t" style="left:881.60px;top:358.62px;font-size:20.30px;line-height:20.30px;font-weight:normal;color:#1d3551;font-family:'Liberation Sans', sans-serif;letter-spacing:1.143px;-webkit-text-stroke:0.6px #1d3551;transform:scaleY(1.07);transform-origin:0 17.18px;">Sculpted</div>
<div class="t" style="left:881.60px;top:382.82px;font-size:20.30px;line-height:20.30px;font-weight:normal;color:#1d3551;font-family:'Liberation Sans', sans-serif;letter-spacing:0.850px;-webkit-text-stroke:0.6px #1d3551;transform:scaleY(1.07);transform-origin:0 17.18px;">Shape</div>
<div class="t" style="left:880.60px;top:439.42px;font-size:20.30px;line-height:20.30px;font-weight:normal;color:#1d3551;font-family:'Liberation Sans', sans-serif;letter-spacing:1.171px;-webkit-text-stroke:0.6px #1d3551;transform:scaleY(1.03);transform-origin:0 17.18px;">Improved</div>
<div class="t" style="left:881.60px;top:464.22px;font-size:20.30px;line-height:20.30px;font-weight:normal;color:#1d3551;font-family:'Liberation Sans', sans-serif;letter-spacing:1.111px;-webkit-text-stroke:0.6px #1d3551;transform:scaleY(1.03);transform-origin:0 17.18px;">Confidence</div>
<div class="t" style="left:881.30px;top:521.72px;font-size:20.30px;line-height:20.30px;font-weight:normal;color:#1d3551;font-family:'Liberation Sans', sans-serif;letter-spacing:0.807px;-webkit-text-stroke:0.6px #1d3551;transform:scaleY(1.06);transform-origin:0 17.18px;">Active Lifestyle</div>
<div class="t" style="left:1294.75px;top:231.13px;font-size:15.20px;line-height:15.20px;font-weight:normal;color:#1f3653;font-family:'Liberation Sans', sans-serif;letter-spacing:0.613px;-webkit-text-stroke:0.5px #1f3653;transform:scaleY(1.12);transform-origin:0 12.87px;">HIGH,</div>
<div class="t" style="left:1270.00px;top:251.14px;font-size:14.90px;line-height:14.90px;font-weight:normal;color:#1f3653;font-family:'Liberation Sans', sans-serif;letter-spacing:0.033px;-webkit-text-stroke:0.5px #1f3653;transform:scaleY(1.12);transform-origin:0 12.61px;">CONFIDENCE</div>
<div class="t" style="left:48.30px;top:488.23px;font-size:14.50px;line-height:14.50px;font-weight:normal;color:#1f3653;font-family:'Liberation Sans', sans-serif;letter-spacing:0.200px;-webkit-text-stroke:0.5px #1f3653;transform:scaleY(1.12);transform-origin:0 12.27px;">LOW</div>
<div class="t" style="left:22.00px;top:507.87px;font-size:14.45px;line-height:14.45px;font-weight:normal;color:#1f3653;font-family:'Liberation Sans', sans-serif;letter-spacing:0.030px;-webkit-text-stroke:0.5px #1f3653;transform:scaleY(1.07);transform-origin:0 12.23px;">CONFIDENCE</div>
<div class="t" style="left:1288.20px;top:693.45px;font-size:8.90px;line-height:8.90px;font-weight:normal;color:#8e80b8;font-family:'Liberation Serif', serif;">DR. ANMOL CHUGH</div>

</body></html>
